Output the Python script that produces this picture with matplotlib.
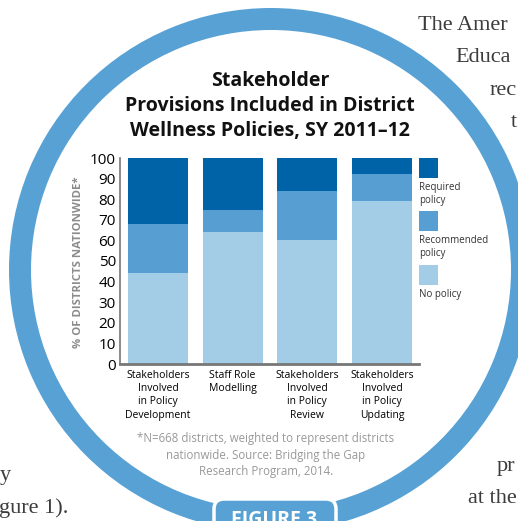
import matplotlib
matplotlib.use('Agg')
import matplotlib.pyplot as plt
from matplotlib.patches import Wedge, FancyBboxPatch, Rectangle
import numpy as np

# data
categories = ['Stakeholders\nInvolved\nin Policy\nDevelopment',
              'Staff Role\nModelling',
              'Stakeholders\nInvolved\nin Policy\nReview',
              'Stakeholders\nInvolved\nin Policy\nUpdating']
no_policy = [44, 64, 60, 79]
recommended = [24, 11, 24, 13]
required = [32, 25, 16, 8]
series_labels = ['Required\npolicy', 'Recommended\npolicy', 'No policy']
yticks = list(range(0, 101, 10))

c_req = '#0063a7'
c_rec = '#579fd3'
c_no = '#a3cde7'
ring = '#58a1d5'

W, H = 518, 521
plt.rcParams['font.family'] = ['Open Sans', 'DejaVu Sans']

fig = plt.figure(figsize=(W / 100, H / 100), dpi=100)

# background layer in pixel coordinates
bg = fig.add_axes([0, 0, 1, 1])
bg.set_xlim(0, W)
bg.set_ylim(H, 0)
bg.axis('off')

# fragments of the surrounding body text
serif = dict(family='Liberation Serif', fontsize=16, color='#3c3c3c')
bg.text(418, 30, 'The Amer', ha='left', va='baseline', **serif)
bg.text(455, 62, 'Educa', ha='left', va='baseline', **serif)
bg.text(490, 95, 'rec', ha='left', va='baseline', **serif)
bg.text(511, 127, 't', ha='left', va='baseline', **serif)
bg.text(0, 480, 'y', ha='left', va='baseline', **serif)
bg.text(68, 513, 'gure 1).', ha='right', va='baseline', **serif)
bg.text(497, 471, 'pr', ha='left', va='baseline', **serif)
bg.text(468, 503, 'at the', ha='left', va='baseline', **serif)

bg.add_patch(Wedge((271, 270), 262, 0, 360, width=22, facecolor=ring,
                   edgecolor='none'))
bg.add_patch(FancyBboxPatch((214, 499), 122, 40,
                            boxstyle='round,pad=0,rounding_size=10',
                            facecolor=ring, edgecolor='white', linewidth=2.5))
bg.text(274, 525, 'FIGURE 3', ha='center', va='baseline', color='white',
        fontsize=14, fontweight='bold')

bg.text(270, 106, 'Stakeholder\nProvisions Included in District\nWellness Policies, SY 2011\u201312',
        ha='center', va='center', fontsize=14, fontweight='bold',
        linespacing=1.32, color='#111111')

bg.text(266, 455, '*N=668 districts, weighted to represent districts\n'
        'nationwide. Source: Bridging the Gap\nResearch Program, 2014.',
        ha='center', va='center', fontsize=8.3, color='#999999',
        linespacing=1.35)

# legend boxes beside the plot
leg_colors = [c_req, c_rec, c_no]
for i, (lab, col) in enumerate(zip(series_labels, leg_colors)):
    top = [158, 211, 265][i]
    bg.add_patch(Rectangle((419, top), 19, 20, facecolor=col, edgecolor='none'))
    bg.text(419, top + 24, lab, ha='left', va='top', fontsize=7,
            color='#333333', linespacing=1.25)

# bar chart
left, right, top, bottom = 120, 419, 158, 364
ax = fig.add_axes([left / W, (H - bottom) / H, (right - left) / W, (bottom - top) / H])
ax.patch.set_alpha(0)
x = np.arange(len(categories))
ax.bar(x, no_policy, width=0.8, color=c_no)
ax.bar(x, recommended, width=0.8, bottom=no_policy, color=c_rec)
ax.bar(x, required, width=0.8, bottom=np.add(no_policy, recommended), color=c_req)

ax.set_xlim(-0.509, 3.495)
ax.set_ylim(0, 100)
ax.set_yticks(yticks)
ax.set_xticks(x)
ax.set_xticklabels(categories, fontsize=7.5, linespacing=1.3)
ax.tick_params(axis='y', length=0, pad=3, labelsize=11)
ax.tick_params(axis='x', length=0, pad=4)
for s in ['top', 'right']:
    ax.spines[s].set_visible(False)
ax.spines['left'].set_color('#777777')
ax.spines['left'].set_linewidth(1.2)
ax.spines['bottom'].set_color('#777777')
ax.spines['bottom'].set_linewidth(2)

ax.set_ylabel('% OF DISTRICTS NATIONWIDE*', fontsize=8.2, fontweight='bold',
              color='#8c8c8c', va='center')
ax.yaxis.set_label_coords(-0.14, 0.495)

fig.savefig('out.png', dpi=100)
